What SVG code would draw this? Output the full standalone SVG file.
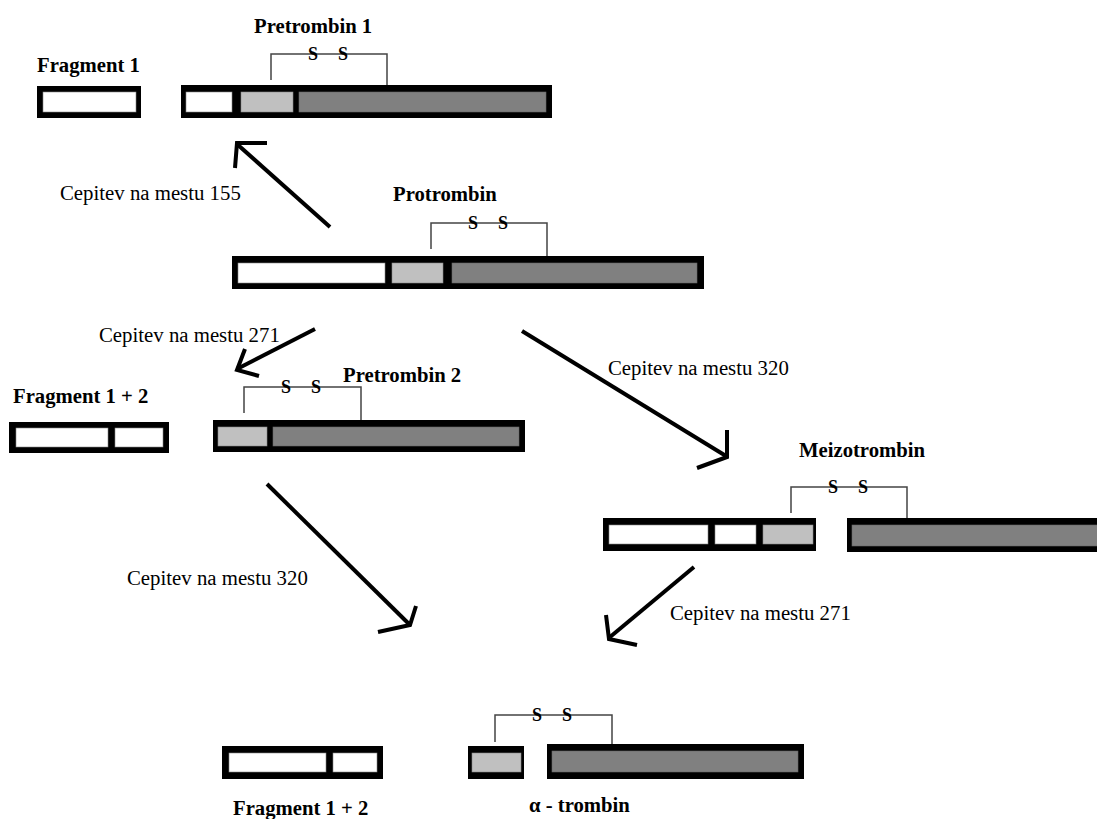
<svg xmlns="http://www.w3.org/2000/svg" width="1097" height="819" viewBox="0 0 1097 819">
<style>
.frame{fill:#000}
.w{fill:#fff;stroke:#888;stroke-width:0.6}
.l{fill:#c0c0c0;stroke:#888;stroke-width:0.6}
.d{fill:#808080;stroke:#666;stroke-width:0.6}
.br{fill:none;stroke:#444;stroke-width:1.5}
.s{font-family:"Liberation Serif",serif;font-weight:bold;font-size:18px;text-anchor:middle;fill:#000}
.lbl{font-family:"Liberation Serif",serif;font-weight:bold;font-size:20.7px;fill:#000}
.cut{font-family:"Liberation Serif",serif;font-size:20.8px;fill:#000}
.arr{fill:none;stroke:#000;stroke-width:4;stroke-linecap:butt;stroke-linejoin:miter}
</style>
<rect width="1097" height="819" fill="#fff"/>

<g id="fragment1">
<text class="lbl" x="37" y="72">Fragment 1</text>
<rect class="frame" x="37" y="86" width="104" height="32"/>
<rect class="w" x="43" y="92" width="93" height="20"/>
</g>

<g id="pretrombin1">
<text class="lbl" x="254" y="33">Pretrombin 1</text>
<path class="br" d="M271,80 V54 H387 V85"/>
<text class="s" x="313" y="60">S</text>
<text class="s" x="343" y="60">S</text>
<rect class="frame" x="181" y="85" width="371" height="33"/>
<rect class="w" x="186" y="92" width="46" height="20"/>
<rect class="l" x="241" y="92" width="52" height="20"/>
<rect class="d" x="299" y="92" width="247" height="20"/>
</g>

<g id="protrombin">
<text class="lbl" x="393" y="201">Protrombin</text>
<path class="br" d="M431,249 V223 H547 V256"/>
<text class="s" x="473" y="229">S</text>
<text class="s" x="503" y="229">S</text>
<rect class="frame" x="232" y="256" width="472" height="33"/>
<rect class="w" x="238" y="263" width="147" height="20"/>
<rect class="l" x="392" y="263" width="51" height="20"/>
<rect class="d" x="452" y="263" width="245" height="20"/>
</g>

<g id="fragment12a">
<text class="lbl" x="13" y="403">Fragment 1 + 2</text>
<rect class="frame" x="9" y="422" width="160" height="31"/>
<rect class="w" x="16" y="428" width="92" height="19"/>
<rect class="w" x="115" y="428" width="48" height="19"/>
</g>

<g id="pretrombin2">
<text class="lbl" x="343" y="382">Pretrombin 2</text>
<path class="br" d="M244,413 V387 H361 V420"/>
<text class="s" x="286" y="393">S</text>
<text class="s" x="316" y="393">S</text>
<rect class="frame" x="213" y="420" width="312" height="32"/>
<rect class="l" x="218" y="427" width="49" height="19"/>
<rect class="d" x="273" y="427" width="246" height="19"/>
</g>

<g id="meizotrombin">
<text class="lbl" x="799" y="457">Meizotrombin</text>
<path class="br" d="M791,513 V487 H907 V518"/>
<text class="s" x="833" y="493">S</text>
<text class="s" x="863" y="493">S</text>
<rect class="frame" x="603" y="518" width="213" height="33"/>
<rect class="w" x="609" y="525" width="99" height="19"/>
<rect class="w" x="715" y="525" width="41" height="19"/>
<rect class="l" x="763" y="525" width="50" height="19"/>
<rect class="frame" x="847" y="518" width="265" height="34"/>
<rect class="d" x="852" y="525" width="255" height="21"/>
</g>

<g id="fragment12b">
<rect class="frame" x="222" y="746" width="161" height="33"/>
<rect class="w" x="229" y="753" width="97" height="19"/>
<rect class="w" x="333" y="753" width="44" height="19"/>
<text class="lbl" x="233" y="815">Fragment 1 + 2</text>
</g>

<g id="alfatrombin">
<path class="br" d="M495,742 V715 H612 V744"/>
<text class="s" x="537" y="721">S</text>
<text class="s" x="567" y="721">S</text>
<rect class="frame" x="468" y="746" width="56" height="33"/>
<rect class="l" x="472" y="753" width="49" height="19"/>
<rect class="frame" x="547" y="744" width="257" height="35"/>
<rect class="d" x="552" y="751" width="246" height="21"/>
<text class="lbl" x="529" y="812">α - trombin</text>
</g>

<g id="connectors">
<path class="arr" d="M330,227 L238,145"/>
<path class="arr" d="M267,143 H237 L235,168"/>
<text class="cut" x="60" y="200">Cepitev na mestu 155</text>

<path class="arr" d="M315,329 L237,369"/>
<path class="arr" d="M245,349 L237,370 L259,376"/>
<text class="cut" x="99" y="342">Cepitev na mestu 271</text>

<path class="arr" d="M522,331 L726,456"/>
<path class="arr" d="M727,430 L727,457 L697,468"/>
<text class="cut" x="608" y="375">Cepitev na mestu 320</text>

<path class="arr" d="M267,484 L409,624"/>
<path class="arr" d="M416,606 L410,625 L378,632"/>
<text class="cut" x="127" y="585">Cepitev na mestu 320</text>

<path class="arr" d="M694,567 L610,637"/>
<path class="arr" d="M606,615 L609,639 L637,645"/>
<text class="cut" x="670" y="620">Cepitev na mestu 271</text>
</g>
</svg>
